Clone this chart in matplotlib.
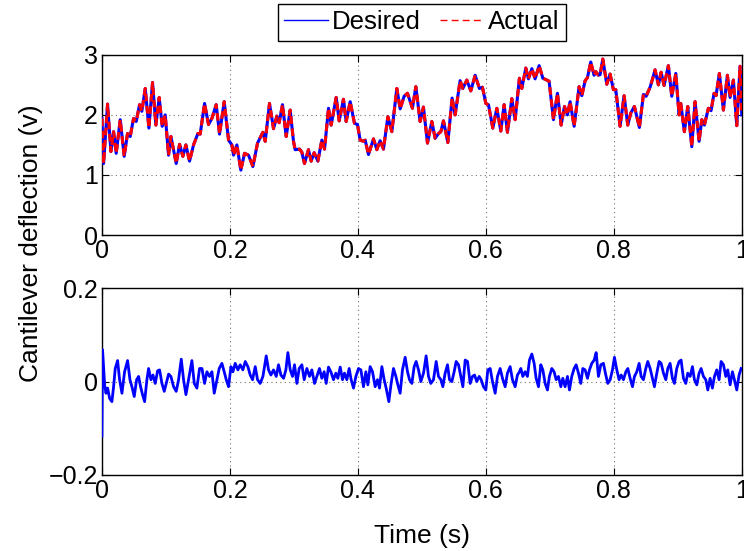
import matplotlib
matplotlib.use("Agg")
from matplotlib import pyplot as plt
from matplotlib.lines import Line2D

plt.rcParams['font.family'] = ['Liberation Sans', 'DejaVu Sans']

# top plot, desired signal (peaks and troughs)
t_top = [0.0, 0.0026, 0.0088, 0.014, 0.0182, 0.0223, 0.0286, 0.0348, 0.040, 0.0442,
         0.0494, 0.0536, 0.0588, 0.0624, 0.0677, 0.0734, 0.0791, 0.0843, 0.0895, 0.0942,
         0.0989, 0.1041, 0.1078, 0.1161, 0.1213, 0.1265, 0.1312, 0.1369, 0.1432, 0.15,
         0.1536, 0.1604, 0.1666, 0.1718, 0.1786, 0.1838, 0.1911, 0.1979, 0.2031, 0.2057,
         0.2109, 0.2171, 0.2229, 0.2291, 0.2359, 0.2432, 0.2515, 0.2552, 0.2619, 0.2682,
         0.2734, 0.277, 0.2822, 0.288, 0.2942, 0.2994, 0.302, 0.3088, 0.3124, 0.3166,
         0.3228, 0.327, 0.3317, 0.3375, 0.3437, 0.3479, 0.3541, 0.3583, 0.3661, 0.3708,
         0.3775, 0.3817, 0.388, 0.3947, 0.3994, 0.4036, 0.4088, 0.4114, 0.4166, 0.4244,
         0.4297, 0.4348, 0.44, 0.4469, 0.4531, 0.4609, 0.4661, 0.4723, 0.4775, 0.4853,
         0.4906, 0.4973, 0.5025, 0.5088, 0.5156, 0.5208, 0.526, 0.5297, 0.5338, 0.5406,
         0.5473, 0.552, 0.5598, 0.564, 0.5703, 0.5765, 0.5833, 0.59, 0.5947, 0.6,
         0.6041, 0.6109, 0.6172, 0.6234, 0.6286, 0.6338, 0.6406, 0.6458, 0.6525, 0.6562,
         0.6625, 0.6666, 0.6719, 0.677, 0.6833, 0.6891, 0.6953, 0.6989, 0.7057, 0.7119,
         0.7177, 0.7229, 0.7275, 0.7317, 0.738, 0.7458, 0.75, 0.7552, 0.7588, 0.764,
         0.7692, 0.7719, 0.776, 0.7786, 0.7828, 0.789, 0.7942, 0.7994, 0.8031, 0.8098,
         0.8161, 0.8218, 0.8265, 0.8322, 0.84, 0.8463, 0.8505, 0.8567, 0.8609, 0.8645,
         0.8697, 0.8739, 0.8786, 0.8853, 0.8906, 0.8969, 0.902, 0.9047, 0.9103, 0.9156,
         0.9219, 0.927, 0.9333, 0.9375, 0.9416, 0.9478, 0.952, 0.9567, 0.9598, 0.965,
         0.9713, 0.9775, 0.9817, 0.9869, 0.9922, 0.9973, 1.0]
desired = [1.94, 1.19, 2.18, 1.39, 1.72, 1.36, 1.92, 1.31, 1.69, 1.64,
           1.94, 1.89, 2.17, 2.06, 2.44, 1.78, 2.54, 1.83, 2.29, 1.81,
           2.0, 1.33, 1.64, 1.19, 1.51, 1.31, 1.5, 1.23, 1.5, 1.69,
           1.68, 2.19, 1.84, 1.94, 2.17, 1.68, 2.22, 1.58, 1.5, 1.33,
           1.5, 1.08, 1.36, 1.33, 1.14, 1.53, 1.71, 1.56, 2.19, 1.77,
           1.98, 1.87, 2.17, 1.64, 2.08, 1.56, 1.42, 1.43, 1.38, 1.19,
           1.42, 1.23, 1.37, 1.23, 1.58, 1.43, 2.11, 1.83, 2.29, 1.9,
           2.26, 1.89, 2.22, 1.86, 1.84, 1.58, 1.56, 1.58, 1.34, 1.6,
           1.42, 1.57, 1.43, 1.97, 1.72, 2.44, 2.1, 2.31, 2.36, 2.11,
           2.47, 1.89, 2.13, 1.53, 1.89, 1.61, 1.69, 1.72, 1.9, 1.54,
           2.28, 2.0, 2.57, 2.44, 2.58, 2.4, 2.66, 2.44, 2.46, 2.19,
           2.17, 1.78, 2.11, 1.73, 2.17, 1.71, 2.27, 1.92, 2.61, 2.44,
           2.78, 2.6, 2.77, 2.6, 2.82, 2.61, 2.58, 2.56, 1.92, 2.36,
           1.83, 2.14, 2.0, 2.22, 1.81, 2.47, 2.32, 2.57, 2.62, 2.88,
           2.66, 2.72, 2.66, 2.67, 2.93, 2.51, 2.68, 2.42, 2.42, 1.81,
           2.32, 1.83, 2.03, 2.14, 1.79, 2.34, 2.31, 2.46, 2.61, 2.75,
           2.5, 2.71, 2.49, 2.82, 2.31, 2.69, 2.0, 2.19, 1.72, 2.14,
           1.47, 2.22, 1.56, 1.92, 1.83, 2.11, 2.07, 2.36, 2.32, 2.69,
           2.08, 2.66, 2.29, 2.58, 1.82, 2.81, 2.0]
# actual output: lies right on the desired one at this scale
actual = list(desired)

# bottom plot, tracking error
t_err = [0.0, 0.001, 0.0042, 0.0063, 0.0089, 0.012, 0.0156, 0.0182, 0.0208, 0.0245,
         0.0276, 0.0313, 0.0354, 0.0401, 0.0438, 0.0469, 0.0505, 0.0542, 0.0573, 0.0604,
         0.0635, 0.0667, 0.0703, 0.0729, 0.0766, 0.0797, 0.0833, 0.087, 0.0901, 0.0938,
         0.0974, 0.1005, 0.1042, 0.1078, 0.112, 0.1161, 0.1198, 0.124, 0.1276, 0.1313,
         0.1354, 0.1406, 0.1443, 0.1484, 0.1526, 0.1563, 0.1604, 0.1641, 0.1682, 0.1719,
         0.1755, 0.1797, 0.1833, 0.1875, 0.1911, 0.1943, 0.1979, 0.2016, 0.2047, 0.2083,
         0.2125, 0.2161, 0.2203, 0.224, 0.2281, 0.2318, 0.2354, 0.2396, 0.2432, 0.2474,
         0.2516, 0.2568, 0.2604, 0.2641, 0.2682, 0.2724, 0.276, 0.2797, 0.2839, 0.2875,
         0.2906, 0.2943, 0.2979, 0.301, 0.3047, 0.3083, 0.3125, 0.3161, 0.3203, 0.3245,
         0.3281, 0.3323,
         0.3359, 0.34, 0.3437, 0.3473, 0.3505, 0.3541, 0.3578, 0.3619, 0.3656, 0.3687,
         0.3724, 0.376, 0.3791, 0.3828, 0.3864, 0.3895, 0.3932, 0.3969, 0.401, 0.4047,
         0.4088, 0.4125, 0.4156, 0.4192, 0.4229, 0.427, 0.4307, 0.4338, 0.4375, 0.4411,
         0.4442, 0.4484, 0.452, 0.4557, 0.4594, 0.4625, 0.4661, 0.4697, 0.4739, 0.4776,
         0.4807, 0.4844, 0.488, 0.4911, 0.4948, 0.4984, 0.5026, 0.5067, 0.5104, 0.514,
         0.5182, 0.5224, 0.526, 0.5297, 0.5328, 0.5364, 0.5401, 0.5432, 0.5469, 0.5505,
         0.5536, 0.5573, 0.5609, 0.5641, 0.5677, 0.5714, 0.5755, 0.5791, 0.5823, 0.5859,
         0.5896, 0.5927, 0.5963, 0.6, 0.6031, 0.6068, 0.6104, 0.6146, 0.6182, 0.6224,
         0.626, 0.6302, 0.6338, 0.638, 0.6416, 0.6458, 0.6494, 0.6526,
         0.6547, 0.6578, 0.6614, 0.665, 0.6682, 0.6719, 0.6755, 0.6786, 0.6823, 0.6859,
         0.6891, 0.6927, 0.6963, 0.6994, 0.7031, 0.7067, 0.7099, 0.7135, 0.7172, 0.7203,
         0.7239, 0.7276, 0.7307, 0.7343, 0.738, 0.7411, 0.7448, 0.7484, 0.7516, 0.7552,
         0.7589, 0.762, 0.7656, 0.7693, 0.7724, 0.776, 0.7797, 0.7838, 0.7875, 0.7906,
         0.7943, 0.7979, 0.801, 0.8047, 0.8083, 0.8115, 0.8151, 0.8188, 0.8219, 0.8255,
         0.8292, 0.8323, 0.8359, 0.8396, 0.8427, 0.8463, 0.85, 0.8531, 0.8568, 0.8604,
         0.8635, 0.8672, 0.8708, 0.874, 0.8776, 0.8813, 0.8844, 0.888, 0.8916, 0.8948,
         0.8984, 0.9021, 0.9052, 0.9088, 0.9125, 0.9156, 0.9193, 0.9229, 0.926, 0.9297,
         0.9333, 0.9365, 0.9401, 0.9438, 0.9469, 0.9505, 0.9541, 0.9573, 0.9609, 0.9646,
         0.9677, 0.9714, 0.975, 0.9781, 0.9818, 0.9854, 0.9885, 0.9922, 0.9958, 0.999]
err = [-0.117, 0.068, -0.007, -0.025, -0.014, -0.036, -0.043, -0.011, 0.028, 0.045,
       0.004, -0.025, 0.021, 0.045, 0.004, -0.011, -0.032, 0.004, 0.011, -0.011,
       -0.028, -0.043, 0.004, 0.028, 0.004, 0.014, -0.004, 0.023, 0.025, -0.004,
       -0.021, -0.004, 0.016, 0.011, -0.011, -0.021, 0.004, 0.048, 0.004, -0.028,
       0.004, 0.045, -0.004, -0.014, 0.028, 0.028, -0.004, 0.021, 0.011, 0.021,
       -0.025, 0.004, 0.028, 0.039, 0.021, 0.004, -0.011, 0.032, 0.021, 0.039,
       0.025, 0.036, 0.025, 0.043, 0.032, 0.014, 0.004, 0.032, 0.004, -0.004,
       0.011, 0.055, 0.025, 0.014, 0.025, 0.011, 0.036, 0.014, 0.007, 0.025,
       0.062, 0.025, 0.011, 0.036, -0.004, 0.028, 0.036, 0.004, 0.028, 0.011,
       0.025, -0.004,
       0.011, 0.028, 0.007, 0.021, -0.004, 0.031, 0.021, 0.004, 0.018, 0.007,
       0.031, 0.004, 0.018, 0.004, 0.028, 0.004, -0.014, 0.011, 0.028, 0.025,
       -0.011, 0.021, -0.007, 0.032, 0.021, -0.011, 0.004, -0.014, 0.032, 0.004,
       -0.014, -0.043, -0.004, 0.028, 0.011, -0.007, -0.025, 0.025, 0.052, 0.021,
       0.004, -0.004, 0.032, 0.043, 0.025, 0.0, 0.018, 0.055, 0.011, -0.004,
       0.004, 0.043, 0.011, 0.004, -0.011, 0.018, 0.036, 0.004, 0.0, 0.021,
       0.043, 0.036, 0.011, -0.011, 0.046, 0.043, -0.004, 0.011, 0.014, 0.0,
       0.011, 0.004, -0.011, -0.018, 0.025, 0.028, 0.0, -0.025, 0.011, 0.028,
       0.007, -0.011, 0.018, 0.032, 0.004, -0.011, 0.014, 0.021,
       0.028, 0.011, 0.021, 0.011, 0.046, 0.059, 0.039, 0.007, -0.011, 0.036,
       0.025, -0.004, -0.018, 0.011, 0.028, 0.021, 0.004, 0.011, -0.011, 0.007,
       -0.011, 0.011, -0.018, 0.011, 0.028, 0.036, 0.018, -0.004, 0.028, 0.025,
       0.007, 0.025, 0.039, 0.046, 0.062, 0.011, 0.036, 0.039, 0.014, -0.004,
       0.004, 0.025, 0.052, 0.025, 0.004, 0.014, 0.004, 0.021, 0.028, 0.007,
       -0.011, 0.011, 0.021, 0.039, 0.011, 0.004, 0.028, 0.043, 0.028, 0.007,
       -0.011, 0.018, 0.043, 0.039, 0.018, 0.004, 0.028, 0.039, 0.007, -0.004,
       0.028, 0.043, 0.046, 0.007, -0.004, 0.018, 0.011, 0.032, 0.004, -0.007,
       0.018, 0.028, 0.011, 0.004, -0.018, 0.007, -0.014, 0.011, 0.025, 0.004,
       0.043, 0.036, 0.011, 0.025, -0.007, 0.021, 0.004, -0.018, 0.014, 0.028]

x_ticks = [0, 0.2, 0.4, 0.6, 0.8, 1]
x_labels = ['0', '0.2', '0.4', '0.6', '0.8', '1']
top_yticks = [0, 1, 2, 3]
top_ylabels = ['0', '1', '2', '3']
err_yticks = [-0.2, 0, 0.2]
err_ylabels = ['\u22120.2', '0', '0.2']

fig = plt.figure(figsize=(7.44, 5.51), dpi=100)
ax1 = fig.add_axes([0.137, 0.5735, 0.860, 0.327])
ax2 = fig.add_axes([0.137, 0.138, 0.860, 0.339])

ax1.plot(t_top, desired, color='b', lw=2.2, zorder=3)
ax1.plot(t_top, actual, color='r', lw=2.2, dashes=(2.5, 1.5), zorder=4)
ax2.plot(t_err, err, color='b', lw=2.0, zorder=3)

def matlab_axes(ax, yt, yl, ylim):
    ax.set_xlim(0, 1)
    ax.set_ylim(*ylim)
    ax.set_xticks(x_ticks)
    ax.set_xticklabels(x_labels)
    ax.set_yticks(yt)
    ax.set_yticklabels(yl)
    ax.tick_params(direction='in', length=5, width=0.8, top=True, right=True,
                   labelsize=18, pad=3)
    ax.grid(True, color='0.45', linestyle=(0, (1, 3)), lw=0.8)
    for s in ax.spines.values():
        s.set_linewidth(1.0)

matlab_axes(ax1, top_yticks, top_ylabels, (0, 3))
matlab_axes(ax2, err_yticks, err_ylabels, (-0.2, 0.2))

# legend above the top plot
handles = [Line2D([], [], color='b', lw=1.0),
           Line2D([], [], color='r', lw=1.0, dashes=(5, 3))]
fig.legend(handles, ['Desired', 'Actual'], loc='upper center',
           bbox_to_anchor=(0.567, 0.993), ncol=2, fontsize=18.5,
           frameon=True, fancybox=False, edgecolor='k', framealpha=1,
           borderpad=0.25, handlelength=1.7, handletextpad=0.17,
           columnspacing=0.75, borderaxespad=0)

fig.text(0.042, 0.559, 'Cantilever deflection (v)', rotation=90,
         ha='center', va='center', fontsize=19)
fig.text(0.567, 0.027, 'Time (s)', ha='center', va='center', fontsize=19)

fig.savefig('out.png', dpi=100)
